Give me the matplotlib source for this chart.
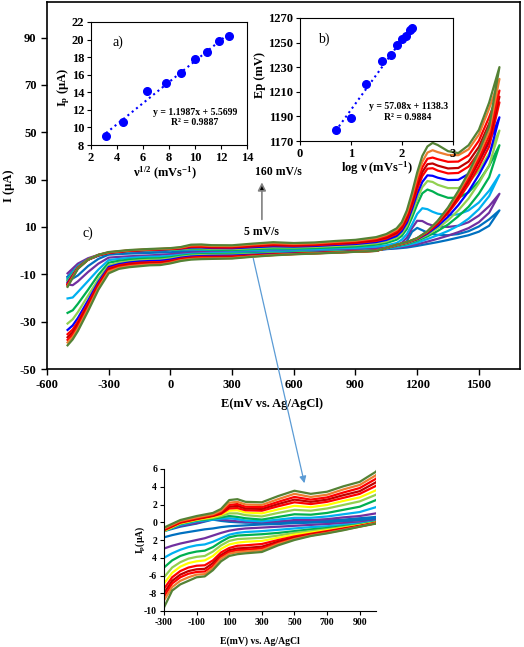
import matplotlib
matplotlib.use('Agg')
import matplotlib.pyplot as plt
from matplotlib.patches import ConnectionPatch

plt.rcParams['font.family'] = ['Liberation Serif', 'DejaVu Serif']
plt.rcParams['font.weight'] = 'bold'
plt.rcParams['axes.labelweight'] = 'bold'
plt.rcParams['axes.unicode_minus'] = False
plt.rcParams['mathtext.fontset'] = 'custom'
plt.rcParams['mathtext.rm'] = 'Liberation Serif:bold'
plt.rcParams['mathtext.it'] = 'Liberation Serif:bold'
plt.rcParams['mathtext.bf'] = 'Liberation Serif:bold'

# ---- cyclic voltammograms (mV, uA), forward scan then reverse scan ----
E_fwd = [-500, -450, -400, -350, -300, -200, -100, 0, 50, 100, 150, 200, 300, 400, 500, 600,
         700, 800, 900, 1000, 1050, 1100, 1125, 1150, 1175, 1200, 1225, 1250, 1275, 1300,
         1350, 1400, 1450, 1500, 1550, 1600]
E_rev = [1600, 1550, 1500, 1450, 1400, 1350, 1300, 1250, 1200, 1150, 1100, 1000, 900, 800,
         700, 600, 500, 400, 300, 200, 150, 100, 50, 0, -50, -100, -150, -200, -250, -300,
         -350, -400, -450, -475, -500]

fwd_steel = [-11, -6.5, -3.8, -2.2, -1.0, -0.5, -0.15, 0.3, 0.15, 0.05, 0.0, -0.05, -0.05, 0.05,
             0.1, 0.1, 0.2, 0.3, 0.45, 0.6, 0.9, 1.4, 2.2, 4.0, 8.0, 9.6, 8.6, 7.6, 7.0, 6.6,
             6.5, 7.0, 8.2, 10.2, 13.2, 17.0]
rev_steel = [17, 10.5, 8, 6.5, 5.5, 4.5, 3.6, 2.8, 2.0, 1.3, 0.9, 0.35, 0.2, 0.1, 0.0, -0.05,
             -0.1, -0.2, -0.25, -0.35, -0.4, -0.45, -0.55, -0.7, -0.8, -0.95, -1.1, -1.25,
             -1.45, -1.7, -3.5, -6.5, -10.5, -11.8, -11.5]

fwd_purple = [-9.6, -5.5, -3.2, -1.8, -0.9, -0.4, -0.1, 0.4, 0.3, 0.2, 0.1, 0.05, 0.0, 0.1,
              0.25, 0.25, 0.35, 0.55, 0.7, 1.0, 1.4, 2.2, 3.3, 5.5, 9.5, 12.6, 12.5, 11.3,
              10.6, 10.2, 10.0, 10.5, 12.0, 14.8, 18.8, 24.0]
rev_purple = [24, 16, 12, 9.5, 7.8, 6.3, 5.0, 3.8, 2.7, 1.8, 1.2, 0.2, 0.0, -0.1, -0.2, -0.3,
              -0.4, -0.5, -0.6, -0.7, -0.8, -0.95, -1.2, -1.5, -1.8, -2.0, -2.2, -2.4, -2.65,
              -2.96, -5.5, -9.0, -13.0, -14.6, -14.3]

fwd_cyan = [-12, -6.5, -3.6, -2.0, -1.0, -0.3, 0.1, 0.3, 0.4, 0.45, 0.35, 0.2, 0.1, 0.3, 0.5,
            0.5, 0.65, 0.9, 1.15, 1.7, 2.2, 3.2, 4.6, 7.0, 11.0, 15.5, 17.9, 17.5, 16.4, 15.6,
            15.0, 15.3, 17.0, 20.3, 25.3, 32.0]
rev_cyan = [32, 23, 17.5, 13.5, 10.5, 8.3, 6.5, 4.9, 3.4, 2.3, 1.5, 0.1, -0.15, -0.3, -0.45,
            -0.55, -0.7, -0.85, -1.0, -1.1, -1.2, -1.4, -1.8, -2.2, -2.5, -2.6, -2.8, -3.1,
            -3.5, -4.0, -8.0, -12.8, -17.5, -19.8, -20.2]

fwd_green = [-12.5, -6.8, -3.7, -2.0, -1.0, -0.2, 0.2, 0.4, 0.55, 0.7, 0.6, 0.45, 0.3, 0.6,
             0.9, 0.85, 1.05, 1.4, 1.75, 2.5, 3.2, 4.6, 6.2, 9.2, 14.0, 19.5, 24.2, 25.8, 25.0,
             23.8, 22.3, 22.3, 24.6, 29.3, 35.8, 44.5]
rev_green = [44.5, 31, 24, 18.5, 14.5, 11, 8.3, 6.0, 4.2, 2.8, 1.9, 0.05, -0.25, -0.45, -0.65,
             -0.8, -1.0, -1.2, -1.35, -1.45, -1.5, -1.7, -2.2, -2.8, -3.2, -3.3, -3.5, -3.8,
             -4.3, -5.1, -10.2, -16.5, -22.5, -25.2, -26.3]

fwd_lgreen = [-13, -7.0, -3.8, -2.0, -1.0, -0.15, 0.25, 0.5, 0.7, 1.0, 1.0, 0.8, 0.65, 1.05,
              1.4, 1.3, 1.55, 1.95, 2.35, 3.1, 3.9, 5.5, 7.3, 10.5, 15.8, 21.8, 26.8, 29.4,
              29.0, 27.8, 26.4, 26.4, 28.8, 33.8, 41.0, 50.7]
rev_lgreen = [50.7, 36, 28.5, 22, 17, 12.8, 9.5, 6.7, 4.6, 3.1, 2.1, 0.0, -0.3, -0.55, -0.8,
              -1.0, -1.2, -1.5, -1.75, -1.85, -1.9, -2.1, -2.6, -3.3, -3.8, -3.9, -4.1, -4.5,
              -5.1, -6.2, -12.0, -19.0, -26, -29, -30.8]

fwd_blue = [-13.5, -7.2, -3.8, -2.0, -0.95, -0.1, 0.3, 0.6, 0.85, 1.3, 1.35, 1.1, 1.0, 1.45,
            1.85, 1.7, 1.95, 2.4, 2.8, 3.6, 4.5, 6.2, 8.2, 11.8, 17.5, 24.0, 29.0, 31.8, 31.6,
            30.8, 29.8, 29.9, 32.4, 37.8, 45.8, 56.3]
rev_blue = [56.3, 40, 32, 25, 19.2, 14.3, 10.4, 7.2, 4.8, 3.3, 2.2, -0.05, -0.35, -0.65, -0.9,
            -1.15, -1.4, -1.75, -2.1, -2.2, -2.3, -2.5, -3.0, -3.8, -4.3, -4.4, -4.6, -5.0,
            -5.7, -6.9, -13.2, -21.0, -28.5, -31.6, -33.5]

fwd_red = [-14, -7.3, -3.8, -1.9, -0.9, -0.05, 0.35, 0.7, 0.95, 1.55, 1.6, 1.35, 1.3, 1.8,
           2.25, 2.05, 2.3, 2.75, 3.2, 4.1, 5.1, 7.0, 9.2, 13.0, 19.0, 26.0, 31.5, 34.6, 34.8,
           33.8, 32.6, 32.8, 35.5, 41.5, 50.8, 62.6]
rev_red = [62.6, 44, 35.5, 28, 21.5, 15.8, 11.2, 7.6, 5.0, 3.4, 2.3, -0.05, -0.4, -0.7, -1.0,
           -1.3, -1.6, -2.0, -2.45, -2.6, -2.65, -2.9, -3.4, -4.3, -4.85, -4.9, -5.1, -5.5,
           -6.2, -7.5, -14.0, -22.2, -30, -33.3, -35.3]

fwd_dred = [-14.3, -7.4, -3.8, -1.9, -0.85, 0.0, 0.4, 0.75, 1.05, 1.75, 1.85, 1.55, 1.5, 2.05,
            2.55, 2.3, 2.55, 3.05, 3.5, 4.5, 5.6, 7.6, 9.9, 14.0, 20.3, 27.5, 33.2, 36.5, 36.8,
            35.9, 34.7, 34.9, 37.6, 43.8, 53.6, 65.0]
rev_dred = [65, 46.5, 37.5, 29.5, 22.8, 16.6, 11.7, 7.8, 5.1, 3.5, 2.4, -0.1, -0.45, -0.75,
            -1.1, -1.4, -1.75, -2.2, -2.75, -2.9, -2.95, -3.15, -3.7, -4.6, -5.25, -5.3, -5.5,
            -5.9, -6.6, -8.0, -14.7, -23.0, -31, -34.5, -36.6]

fwd_red2 = [-14.6, -7.5, -3.8, -1.85, -0.8, 0.05, 0.45, 0.8, 1.15, 1.95, 2.05, 1.75, 1.7, 2.3,
            2.85, 2.55, 2.8, 3.35, 3.85, 4.9, 6.1, 8.2, 10.6, 15.0, 21.6, 29.2, 35.2, 38.8,
            39.3, 38.6, 37.5, 37.6, 40.2, 46.4, 56.4, 67.6]
rev_red2 = [67.6, 48.5, 39, 30.8, 23.8, 17.3, 12.1, 8.0, 5.2, 3.5, 2.4, -0.1, -0.45, -0.8,
            -1.15, -1.45, -1.85, -2.35, -2.95, -3.1, -3.15, -3.35, -3.9, -4.9, -5.55, -5.6,
            -5.8, -6.2, -6.9, -8.4, -15.2, -23.8, -32, -35.5, -37.7]

fwd_orange = [-15, -7.6, -3.8, -1.8, -0.7, 0.15, 0.55, 0.9, 1.3, 2.2, 2.3, 2.0, 1.95, 2.6,
              3.2, 2.85, 3.1, 3.7, 4.2, 5.3, 6.6, 8.8, 11.3, 16.0, 23.0, 31.0, 37.5, 41.4,
              42.4, 41.6, 40.4, 40.3, 42.8, 49.0, 60.0, 72.5]
rev_orange = [72.5, 50.5, 40.7, 32, 24.5, 17.8, 12.4, 8.1, 5.2, 3.5, 2.4, -0.1, -0.5, -0.85,
              -1.2, -1.5, -1.9, -2.45, -3.15, -3.3, -3.35, -3.55, -4.1, -5.15, -5.85, -5.9,
              -6.2, -6.6, -7.3, -8.8, -15.8, -24.6, -33, -36.5, -38.8]

fwd_olive = [-15.3, -7.7, -3.8, -1.75, -0.6, 0.25, 0.7, 1.05, 1.5, 2.5, 2.6, 2.3, 2.25, 2.95,
             3.55, 3.2, 3.44, 4.05, 4.55, 5.7, 7.0, 9.4, 12.0, 17.0, 24.5, 33.0, 40.0, 44.0,
             45.5, 44.6, 42.0, 41.2, 44.5, 51.0, 62.5, 77.5]
rev_olive = [77.5, 52.5, 42, 33, 25.2, 18.2, 12.6, 8.2, 5.3, 3.6, 2.5, -0.15, -0.5, -0.9,
             -1.25, -1.55, -2.0, -2.6, -3.35, -3.5, -3.6, -3.8, -4.4, -5.4, -6.1, -6.2, -6.6,
             -7.0, -7.7, -9.6, -16.5, -25.5, -34, -37.5, -40]

fwd_all = [fwd_steel, fwd_purple, fwd_cyan, fwd_green, fwd_lgreen, fwd_blue, fwd_red,
           fwd_dred, fwd_red2, fwd_orange, fwd_olive]
rev_all = [rev_steel, rev_purple, rev_cyan, rev_green, rev_lgreen, rev_blue, rev_red,
           rev_dred, rev_red2, rev_orange, rev_olive]
colors_main = ['#0070C0', '#7030A0', '#00B0F0', '#00B050', '#92D050', '#0000FF', '#FF0000',
               '#C00000', '#FF0000', '#ED7D31', '#548235']
colors_zoom = ['#0070C0', '#7030A0', '#00B0F0', '#00B050', '#92D050', '#FFFF00', '#FF0000',
               '#C00000', '#FF0000', '#ED7D31', '#548235']

# ---- inset a) Ip vs sqrt(v) ----
sqrt_v = [3.16, 4.47, 6.32, 7.75, 8.94, 10.0, 10.95, 11.83, 12.65]
ip = [9.0, 10.6, 14.2, 15.1, 16.2, 17.8, 18.6, 19.8, 20.4]
fit_a = (1.1987, 5.5699)

# ---- inset b) Ep vs log v ----
log_v = [0.70, 1.00, 1.30, 1.60, 1.78, 1.90, 2.00, 2.08, 2.15, 2.20]
ep = [1179, 1189, 1216, 1235, 1240, 1248, 1253, 1255, 1260, 1262]
fit_b = (57.08, 1138.3)

W, H = 524, 647
fig = plt.figure(figsize=(W / 100, H / 100), dpi=100)


def box(l, t, r, b):
    return [l / W, 1 - b / H, (r - l) / W, (b - t) / H]


# main chart
ax = fig.add_axes(box(47, 2, 520, 369))
for f, r, c in zip(fwd_all, rev_all, colors_main):
    ax.plot(E_fwd + E_rev[1:], f + r[1:], color=c, lw=1.6)
ax.set_xlim(-600, 1700)
ax.set_ylim(-50, 105)
ax.set_xticks(range(-600, 1501, 300))
ax.set_yticks(range(-50, 91, 20))
ax.tick_params(direction='out', length=4, width=1, labelsize=9)
for s in ax.spines.values():
    s.set_linewidth(1.2)
ax.set_xlabel('E(mV vs. Ag/AgCl)', fontsize=9)
ax.xaxis.set_label_coords(0.476, -0.078)
ax.set_ylabel('I (µA)', fontsize=9)
ax.yaxis.set_label_coords(-0.068, 0.5)
ax.text(-400, 7.3, 'c)', fontsize=10, fontweight='normal', ha='center', va='center')
ax.annotate('', xy=(445, 30), xytext=(445, 12),
            arrowprops=dict(arrowstyle='-|>', ec='gray', fc='black', lw=1.2, mutation_scale=12))
ax.text(445, 7.8, '5 mV/s', fontsize=8.5, ha='center', va='center')
ax.text(523, 33, '160 mV/s', fontsize=8.5, ha='center', va='center')

# inset a
axa = fig.add_axes(box(91, 22, 247, 145))
axa.plot(sqrt_v, ip, 'o', color='#0000FF', ms=5.5)
xa = [sqrt_v[0], sqrt_v[-1]]
axa.plot(xa, [fit_a[0] * x + fit_a[1] for x in xa], ':', color='#0000FF', lw=1.5)
axa.set_xlim(2, 14)
axa.set_ylim(8, 22)
axa.set_xticks(range(2, 15, 2))
axa.set_yticks(range(8, 23, 2))
axa.tick_params(direction='out', length=3, labelsize=9, pad=2)
axa.set_xlabel(r'ν$^{1/2}$ (mVs$^{-1}$)', fontsize=9)
axa.xaxis.set_label_coords(0.474, -0.165)
axa.set_ylabel(r'I$_{\rm p}$ (µA)', fontsize=9)
axa.yaxis.set_label_coords(-0.125, 0.47)
axa.text(4.1, 19.7, 'a)', fontsize=10, fontweight='normal', ha='center', va='center')
axa.text(10.0, 11.7, 'y = 1.1987x + 5.5699', fontsize=7, ha='center', va='center')
axa.text(10.0, 10.55, 'R² = 0.9887', fontsize=7, ha='center', va='center')

# inset b
axb = fig.add_axes(box(300, 18, 453, 141))
axb.plot(log_v, ep, 'o', color='#0000FF', ms=5.5)
xb = [log_v[0], log_v[-1]]
axb.plot(xb, [fit_b[0] * x + fit_b[1] for x in xb], ':', color='#0000FF', lw=1.5)
axb.set_xlim(0, 3)
axb.set_ylim(1170, 1270)
axb.set_xticks([0, 1, 2, 3])
axb.set_yticks(range(1170, 1271, 20))
axb.tick_params(direction='out', length=3, labelsize=9, pad=2)
axb.set_xlabel(r'log ν (mVs$^{-1}$)', fontsize=9)
axb.xaxis.set_label_coords(0.50, -0.15)
axb.set_ylabel('Ep (mV)', fontsize=9)
axb.yaxis.set_label_coords(-0.222, 0.537)
axb.text(0.46, 1253, 'b)', fontsize=10, fontweight='normal', ha='center', va='center')
axb.text(2.12, 1198, 'y = 57.08x + 1138.3', fontsize=7, ha='center', va='center')
axb.text(2.12, 1189.3, 'R² = 0.9884', fontsize=7, ha='center', va='center')

# lower zoomed inset
axz = fig.add_axes(box(164, 469, 376, 611))
for f, r, c in zip(fwd_all, rev_all, colors_zoom):
    axz.plot(E_fwd + E_rev[1:], f + r[1:], color=c, lw=1.6)
axz.set_xlim(-300, 1000)
axz.set_ylim(-10, 6)
axz.set_xticks(range(-300, 901, 200))
axz.set_yticks(range(-10, 7, 2))
axz.set_yticklabels(['-10', '-8', '-6', '4', '2', '0', '2', '4', '6'])
axz.spines['top'].set_visible(False)
axz.spines['right'].set_visible(False)
axz.tick_params(direction='out', length=3, labelsize=7, pad=2)
axz.set_xlabel('E(mV) vs. Ag/AgCl', fontsize=7)
axz.xaxis.set_label_coords(0.453, -0.176)
axz.set_ylabel(r'I$_{\rm p}$(µA)', fontsize=7)
axz.yaxis.set_label_coords(-0.08, 0.5)

con = ConnectionPatch(xyA=(403, -3.3), coordsA='data', axesA=ax,
                      xyB=(561, 4.4), coordsB='data', axesB=axz,
                      arrowstyle='-|>', color='#5B9BD5', lw=0.9, mutation_scale=10)
fig.add_artist(con)

fig.savefig('out.png', dpi=100)
